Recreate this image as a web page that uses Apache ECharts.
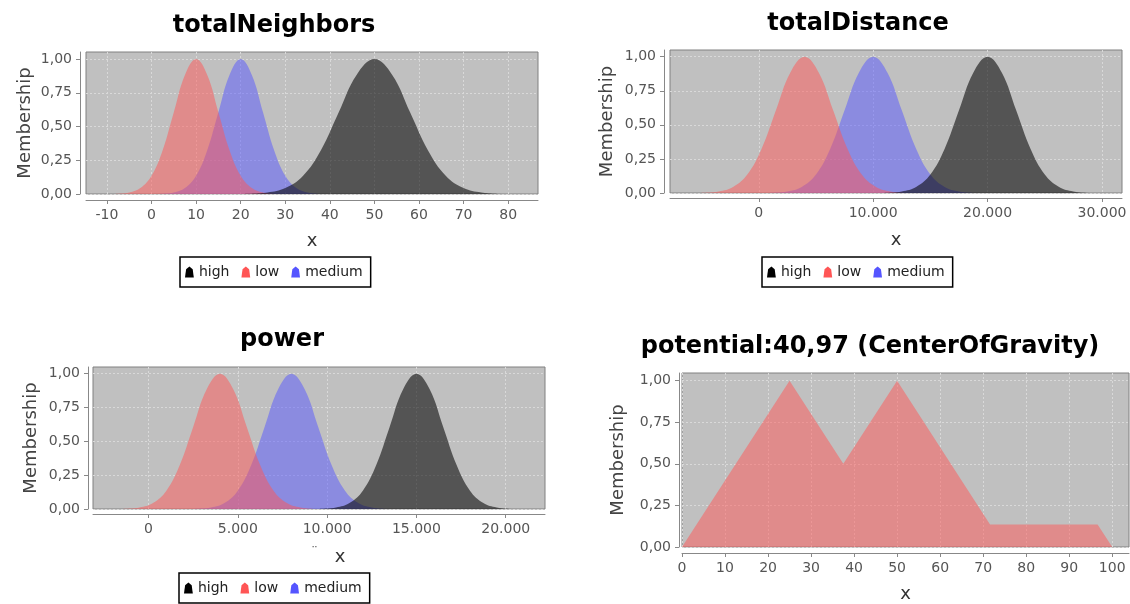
<!DOCTYPE html>
<html><head><meta charset="utf-8">
<script src="https://cdn.jsdelivr.net/npm/echarts@6/dist/echarts.min.js"></script>
<style>html,body{margin:0;padding:0;background:#fff}#c{width:1130px;height:604px}</style>
</head><body><div id="c"></div>
<script>
// ---- data ----
const titles = ['totalNeighbors', 'totalDistance', 'power', 'potential:40,97 (CenterOfGravity)'];
const legendNames = ['high', 'low', 'medium'];
const membershipTicks = [0, 0.25, 0.5, 0.75, 1];
const tnTicks = [-10, 0, 10, 20, 30, 40, 50, 60, 70, 80];
const tdTicks = [0, 10000, 20000, 30000];
const pwTicks = [0, 5000, 10000, 15000, 20000];
const potTicks = [0, 10, 20, 30, 40, 50, 60, 70, 80, 90, 100];

const tnLow = [[-8,0.0015],[-5,0.0111],[-2.5,0.0439],[0,0.1353],[2.5,0.3247],[5,0.6065],[7.5,0.8825],[10,1],[12.5,0.8825],[15,0.6065],[17.5,0.3247],[20,0.1353],[22.5,0.0439],[25,0.0111],[28,0.0015]];
const tnMedium = [[2,0.0015],[5,0.0111],[7.5,0.0439],[10,0.1353],[12.5,0.3247],[15,0.6065],[17.5,0.8825],[20,1],[22.5,0.8825],[25,0.6065],[27.5,0.3247],[30,0.1353],[32.5,0.0439],[35,0.0111],[38,0.0015]];
const tnHigh = [[21,0.0015],[26,0.0111],[30,0.0439],[34,0.1353],[38,0.3247],[42,0.6065],[46,0.8825],[50,1],[54,0.8825],[58,0.6065],[62,0.3247],[66,0.1353],[70,0.0439],[74,0.0111],[79,0.0015]];

const tdLow = [[-5000,0.0015],[-3500,0.0111],[-2250,0.0439],[-1000,0.1353],[250,0.3247],[1500,0.6065],[2750,0.8825],[4000,1],[5250,0.8825],[6500,0.6065],[7750,0.3247],[9000,0.1353],[10250,0.0439],[11500,0.0111],[13000,0.0015]];
const tdMedium = [[1000,0.0015],[2500,0.0111],[3750,0.0439],[5000,0.1353],[6250,0.3247],[7500,0.6065],[8750,0.8825],[10000,1],[11250,0.8825],[12500,0.6065],[13750,0.3247],[15000,0.1353],[16250,0.0439],[17500,0.0111],[19000,0.0015]];
const tdHigh = [[11000,0.0015],[12500,0.0111],[13750,0.0439],[15000,0.1353],[16250,0.3247],[17500,0.6065],[18750,0.8825],[20000,1],[21250,0.8825],[22500,0.6065],[23750,0.3247],[25000,0.1353],[26250,0.0439],[27500,0.0111],[29000,0.0015]];

const pwLow = [[-1400,0.0015],[-500,0.0111],[250,0.0439],[1000,0.1353],[1750,0.3247],[2500,0.6065],[3250,0.8825],[4000,1],[4750,0.8825],[5500,0.6065],[6250,0.3247],[7000,0.1353],[7750,0.0439],[8500,0.0111],[9400,0.0015]];
const pwMedium = [[2600,0.0015],[3500,0.0111],[4250,0.0439],[5000,0.1353],[5750,0.3247],[6500,0.6065],[7250,0.8825],[8000,1],[8750,0.8825],[9500,0.6065],[10250,0.3247],[11000,0.1353],[11750,0.0439],[12500,0.0111],[13400,0.0015]];
const pwHigh = [[9600,0.0015],[10500,0.0111],[11250,0.0439],[12000,0.1353],[12750,0.3247],[13500,0.6065],[14250,0.8825],[15000,1],[15750,0.8825],[16500,0.6065],[17250,0.3247],[18000,0.1353],[18750,0.0439],[19500,0.0111],[20400,0.0015]];

const potential = [[0,0],[25,1],[37.5,0.5],[50,1],[71.6,0.136],[96.6,0.136],[100,0]];

// ---- styling / layout ----
const COL = {high: '#000000', low: '#ff5555', medium: '#5555ff'};
const ALPHA = {high: 0.56, low: 0.5, medium: 0.5, potential: 0.5};
const FONT = 'DejaVu Sans';
const commaFmt = v => v.toFixed(2).replace('.', ',');
const intFmt = v => String(v);
const thouFmt = v => String(Math.round(v)).replace(/\B(?=(\d{3})+(?!\d))/g, '.');

const panels = [
  {grid: {left: 86, top: 52, width: 452, height: 142}, x: [-14.7, 86.7], ymax: 1.052, ticks: tnTicks, fmt: intFmt,
   title: {cx: 274, top: 14}, legend: {left: 180, top: 257}, yOff: 6, xOff: 6, yGap: 46, xGap: 32, xShift: 0,
   series: [['medium', tnMedium], ['low', tnLow], ['high', tnHigh]]},
  {grid: {left: 670, top: 50, width: 452, height: 143}, x: [-7760, 31750], ymax: 1.049, ticks: tdTicks, fmt: thouFmt,
   title: {cx: 858, top: 11.5}, legend: {left: 762, top: 257}, yOff: 6, xOff: 5, yGap: 48, xGap: 33, xShift: 0,
   series: [['medium', tdMedium], ['low', tdLow], ['high', tdHigh]]},
  {grid: {left: 93, top: 367, width: 452, height: 142}, x: [-3110, 22200], ymax: 1.049, ticks: pwTicks, fmt: thouFmt,
   title: {cx: 282, top: 328}, legend: {left: 179, top: 573}, yOff: 5, xOff: 5, yGap: 48, xGap: 34, xShift: 42,
   series: [['medium', pwMedium], ['low', pwLow], ['high', pwHigh]]},
  {grid: {left: 682, top: 373, width: 447, height: 176}, x: [0, 103.9], ymax: 1.046, ticks: potTicks, fmt: intFmt,
   title: {cx: 870, top: 335}, legend: null, yOff: 3, xOff: 6, yGap: 52, xGap: 32, xShift: 0,
   series: [['potential', potential]]}
];

const bell = 'path://M4,0 L7,2.5 L8,10 L0,10 L1,2.5 Z';

const option = {animation: false, backgroundColor: '#ffffff', grid: [], xAxis: [], yAxis: [], title: [], legend: [], series: [],
  graphic: [{type: 'text', left: 311, top: 546, silent: true,
    style: {text: '¨', fontFamily: FONT, fontSize: 14, fill: '#777'}}]};

panels.forEach((p, i) => {
  option.grid.push(Object.assign({show: true, backgroundColor: '#c0c0c0', borderColor: '#808080', borderWidth: 1}, p.grid));
  option.title.push({text: titles[i], left: p.title.cx, top: p.title.top, textAlign: 'center', padding: 0,
    textStyle: {fontFamily: FONT, fontWeight: 'bold', fontSize: 24, color: '#000'}});
  option.xAxis.push({type: 'value', gridIndex: i, min: p.x[0], max: p.x[1], offset: p.xOff,
    name: 'x', nameLocation: 'middle', nameGap: p.xGap,
    nameTextStyle: {fontFamily: FONT, fontSize: 18, color: '#333', padding: [0, 0, 0, p.xShift]},
    axisLine: {show: true, onZero: false, lineStyle: {color: '#888', width: 1}},
    axisTick: {show: true, length: 4, customValues: p.ticks, lineStyle: {color: '#888'}},
    axisLabel: {customValues: p.ticks, formatter: p.fmt, margin: 8, fontFamily: FONT, fontSize: 14, color: '#555'},
    splitLine: {show: true, lineStyle: {color: '#d9d9d9', type: [2, 2], width: 1}}});
  option.yAxis.push({type: 'value', gridIndex: i, min: 0, max: p.ymax, offset: p.yOff,
    name: 'Membership', nameLocation: 'middle', nameGap: p.yGap,
    nameTextStyle: {fontFamily: FONT, fontSize: 18, color: '#444'},
    axisLine: {show: true, onZero: false, lineStyle: {color: '#888', width: 1}},
    axisTick: {show: true, length: 4, customValues: membershipTicks, lineStyle: {color: '#888'}},
    axisLabel: {customValues: membershipTicks, formatter: commaFmt, margin: 8, fontFamily: FONT, fontSize: 14, color: '#555'},
    splitLine: {show: true, lineStyle: {color: '#d9d9d9', type: [2, 2], width: 1}}});
  p.series.forEach(([name, data]) => {
    const color = COL[name] || COL.low;
    option.series.push({type: 'line', name: name, data: data, xAxisIndex: i, yAxisIndex: i,
      smooth: name === 'potential' ? false : 0.4, symbol: 'none', silent: true,
      lineStyle: {width: 0, opacity: 0}, itemStyle: {color: color},
      areaStyle: {color: color, opacity: ALPHA[name]}});
  });
  if (p.legend) {
    option.legend.push({left: p.legend.left, top: p.legend.top, orient: 'horizontal', selectedMode: false,
      data: legendNames.map(n => ({name: n, icon: bell, itemStyle: {color: COL[n], opacity: 1, borderWidth: 0}})),
      itemWidth: 9, itemHeight: 11, itemGap: 12, padding: [8, 8, 8, 5],
      borderColor: '#000', borderWidth: 1.5, backgroundColor: '#fff',
      textStyle: {fontFamily: FONT, fontSize: 14, color: '#222'}});
  }
});

const chart = echarts.init(document.getElementById('c'), null, {renderer: 'canvas'});
chart.setOption(option);
</script>
</body></html>
